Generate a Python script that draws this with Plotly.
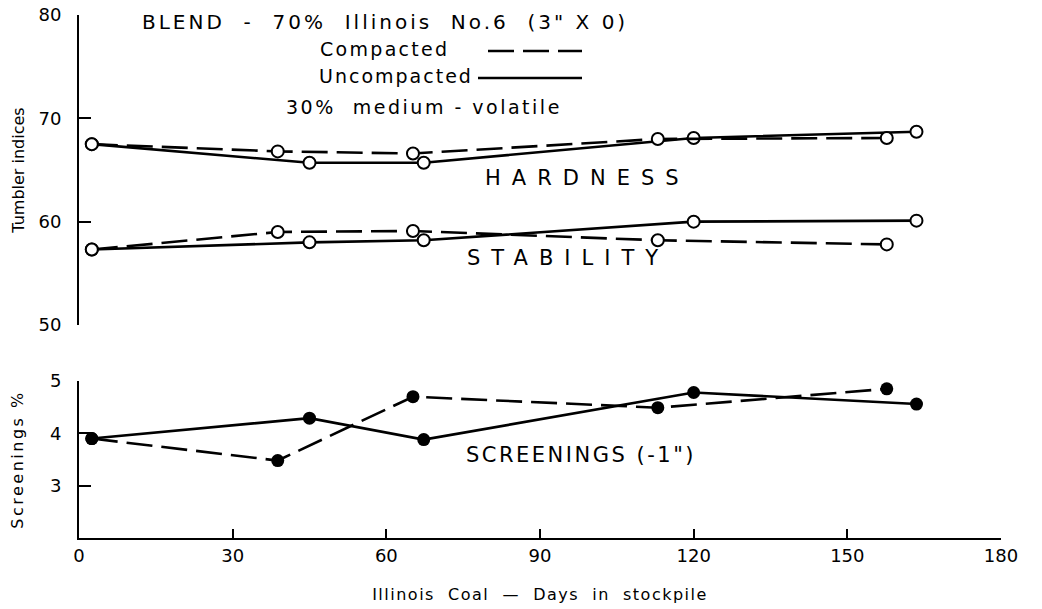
import plotly.graph_objects as go

# ---- data ----
days_compacted = [2.5, 38.8, 65.2, 113, 157.7]
days_uncompacted = [2.5, 45, 67.3, 120, 163.5]

hardness_compacted = [67.5, 66.8, 66.6, 68.0, 68.1]
hardness_uncompacted = [67.5, 65.7, 65.7, 68.1, 68.7]

stability_compacted = [57.3, 59.0, 59.1, 58.2, 57.8]
stability_uncompacted = [57.3, 58.0, 58.2, 60.0, 60.1]

screenings_compacted = [3.9, 3.48, 4.70, 4.49, 4.85]
screenings_uncompacted = [3.9, 4.29, 3.88, 4.78, 4.56]

x_ticks = [0, 30, 60, 90, 120, 150, 180]
top_ticks = [50, 60, 70, 80]
bottom_ticks = [3, 4, 5]

FONT = "DejaVu Sans"
DASH = "26px,9px"
LW = 2.6

fig = go.Figure()

open_marker = dict(symbol="circle", size=12, color="white", line=dict(color="black", width=2))
solid_marker = dict(symbol="circle", size=13, color="black", line=dict(color="black", width=0))

def add(x, y, dash, marker, xa, ya, name):
    fig.add_trace(go.Scatter(
        x=x, y=y, mode="lines+markers", name=name, showlegend=False,
        line=dict(color="black", width=LW, dash=dash),
        marker=marker, xaxis=xa, yaxis=ya, cliponaxis=False))

add(days_uncompacted, hardness_uncompacted, "solid", open_marker, "x2", "y", "Hardness uncompacted")
add(days_compacted, hardness_compacted, DASH, open_marker, "x2", "y", "Hardness compacted")
add(days_uncompacted, stability_uncompacted, "solid", open_marker, "x2", "y", "Stability uncompacted")
add(days_compacted, stability_compacted, DASH, open_marker, "x2", "y", "Stability compacted")
add(days_uncompacted, screenings_uncompacted, "solid", solid_marker, "x", "y2", "Screenings uncompacted")
add(days_compacted, screenings_compacted, DASH, solid_marker, "x", "y2", "Screenings compacted")

W, H = 1042, 609
L, R, T, B = 79, 41, 15, 71
ph = H - T - B

def py(p):
    return (H - B - p) / ph

def px(p):
    return (p - L) / (W - L - R)

axis_common = dict(showgrid=False, zeroline=False, linecolor="black", linewidth=2,
                   ticks="inside", tickcolor="black", tickwidth=2, automargin=False,
                   tickfont=dict(family=FONT, size=18, color="black"))

fig.update_layout(
    width=W, height=H,
    margin=dict(l=L, r=R, t=T, b=B, autoexpand=False),
    paper_bgcolor="white", plot_bgcolor="white",
    font=dict(family=FONT, color="black"),
    xaxis=dict(domain=[0, 1], range=[0, 180], anchor="y2", showline=True,
               tickvals=x_ticks, ticklen=9, **axis_common,
               title=dict(text='<span style="letter-spacing:1.5px">Illinois  Coal  —  Days  in  stockpile</span>',
                          font=dict(family=FONT, size=16, color="black"), standoff=24)),
    xaxis2=dict(domain=[0, 1], range=[0, 180], anchor="y", visible=False, matches="x"),
    yaxis=dict(domain=[py(325), 1], range=[50, 80], anchor="x2", showline=True,
               tickvals=top_ticks, ticklen=12, ticklabelstandoff=12, **axis_common,
               title=dict(text="Tumbler indices", font=dict(family=FONT, size=16, color="black"),
                          standoff=10)),
    yaxis2=dict(domain=[0, py(381)], range=[2, 5], anchor="x", showline=True,
                tickvals=bottom_ticks, ticklen=12, ticklabelstandoff=12, **axis_common,
                title=dict(text='<span style="letter-spacing:2.5px">Screenings %</span>',
                           font=dict(family=FONT, size=16, color="black"), standoff=22)),
)

def note(text, cx, cy, size, spacing):
    fig.add_annotation(text=f'<span style="letter-spacing:{spacing}px">{text}</span>',
                       x=px(cx), y=py(cy), xref="paper", yref="paper",
                       xanchor="center", yanchor="middle", showarrow=False,
                       font=dict(family=FONT, size=size, color="black"))

note("BLEND  -  70%  Illinois  No.6  (3\" X 0)", 385, 22, 20, 3)
note("Compacted", 384, 49, 19, 2.3)
note("Uncompacted", 396, 76, 19, 2)
note("30%  medium - volatile", 424, 107, 19, 2.5)
note("HARDNESS", 587, 178, 21, 11)
note("STABILITY", 568, 258, 21, 11)
note("SCREENINGS (-1\")", 581, 455, 21, 2.5)

# legend key lines
fig.add_shape(type="line", xref="paper", yref="paper", x0=px(488), x1=px(582), y0=py(51), y1=py(51),
              line=dict(color="black", width=LW, dash=DASH))
fig.add_shape(type="line", xref="paper", yref="paper", x0=px(478), x1=px(582), y0=py(78), y1=py(78),
              line=dict(color="black", width=LW))

fig.write_html("out.html", config={"displayModeBar": False},
               post_script="document.body.style.margin='0';")
